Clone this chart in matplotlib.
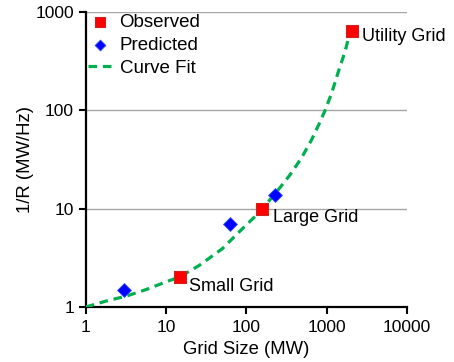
import matplotlib
matplotlib.use("Agg")
import matplotlib.pyplot as plt

plt.rcParams["font.family"] = ["Liberation Sans", "DejaVu Sans"]

# observed grids
obs_size = [15, 155, 2060]
obs_inv_r = [2.0, 9.8, 645]
obs_names = ["Small Grid", "Large Grid", "Utility Grid"]

# predicted values
pred_size = [3.0, 62, 226]
pred_inv_r = [1.5, 7.0, 13.9]

# curve fit
fit_size = [1.0, 1.8, 3.2, 5.6, 10, 15, 26, 50, 85, 150, 265, 350, 490, 650, 830, 960,
            1160, 1400, 1600, 1780, 1950]
fit_inv_r = [1.0, 1.15, 1.29, 1.5, 1.8, 2.03, 2.65, 3.9, 6.0, 9.4, 16.5, 22, 33, 50, 76, 100,
             150, 245, 340, 455, 630]

fig = plt.figure(figsize=(4.54, 3.62), dpi=100)
ax = fig.add_axes([0.189, 0.152, 0.707, 0.815])

ax.plot(fit_size, fit_inv_r, color="#00B050", linestyle=(0, (2.7, 1.8)), linewidth=2.3,
        label="Curve Fit", zorder=3)
ax.scatter(obs_size, obs_inv_r, marker="s", s=75, color="#FF0000", edgecolors="#D02020",
           linewidths=0.8, label="Observed", zorder=4)
ax.scatter(pred_size, pred_inv_r, marker="D", s=50, color="#0000FF", edgecolors="#3050FF",
           linewidths=0.6, label="Predicted", zorder=4)

offsets = [(9, -9), (11, -8), (10, -6)]
for x, y, name, off in zip(obs_size, obs_inv_r, obs_names, offsets):
    ax.annotate(name, (x, y), xytext=off, textcoords="offset pixels",
                ha="left", va="center", fontsize=13)

ax.set_xscale("log")
ax.set_yscale("log")
ax.set_xlim(1, 10000)
ax.set_ylim(1, 1000)
ax.set_xticks([1, 10, 100, 1000, 10000])
ax.set_xticklabels(["1", "10", "100", "1000", "10000"])
ax.set_yticks([1, 10, 100, 1000])
ax.set_yticklabels(["1", "10", "100", "1000"])
ax.minorticks_off()
ax.tick_params(labelsize=12.5, width=1.5, length=5, color="black")
ax.tick_params(axis="x", pad=4.5)
ax.yaxis.grid(True, color="#A6A6A6", linewidth=1.0)
ax.set_axisbelow(True)
for side in ("top", "right"):
    ax.spines[side].set_visible(False)
for side in ("left", "bottom"):
    ax.spines[side].set_linewidth(1.6)

ax.set_xlabel("Grid Size (MW)", fontsize=13.3, labelpad=4)
ax.set_ylabel("1/R (MW/Hz)", fontsize=13.3, labelpad=1)

handles, labels = ax.get_legend_handles_labels()
order = [1, 2, 0]
ax.legend([handles[i] for i in order], [labels[i] for i in order], loc="upper left",
          frameon=False, fontsize=13.5, handlelength=1.33, handletextpad=0.37,
          labelspacing=0.3, borderaxespad=0.0, borderpad=0.0, markerscale=0.78,
          bbox_to_anchor=(0.006, 0.993))

fig.savefig("out.png", dpi=100)
